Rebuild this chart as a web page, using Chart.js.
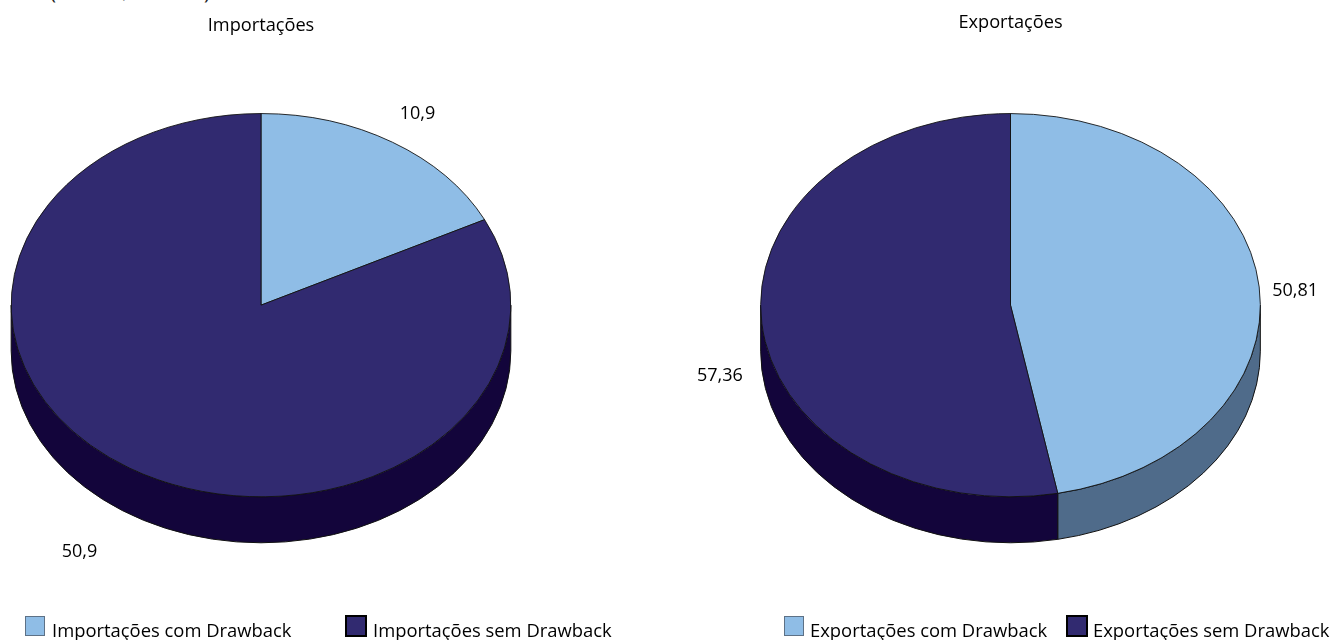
<!DOCTYPE html>
<html lang="pt-BR">
<head>
<meta charset="utf-8">
<title>Drawback</title>
<script src="https://cdn.jsdelivr.net/npm/chart.js@4"></script>
<style>
  html, body { margin: 0; padding: 0; background: #fff; overflow: hidden; }
  body { position: relative; width: 1332px; height: 640px; font-family: "Open Sans", sans-serif; color: #000; }
  canvas { position: absolute; top: 0; }
  .unit { position: absolute; left: 50px; top: -21px; font-size: 20.5px; line-height: 24px; color: #222; white-space: nowrap; }
  .key-box { position: absolute; top: 616px; width: 20px; height: 20px; box-sizing: border-box; }
  .key-box.dark { top: 615px; width: 22px; height: 22px; }
  .key-text { position: absolute; top: 618px; font-size: 18.4px; line-height: 24px; white-space: nowrap; }
</style>
</head>
<body>
<div class="unit">(Em US$ bilhões)</div>
<canvas id="imports" width="666" height="640" style="left:0"></canvas>
<canvas id="exports" width="666" height="640" style="left:666px"></canvas>
<script>
const importLabels = ["Importações com Drawback", "Importações sem Drawback"];
const importValues = [10.9, 50.9];
const exportLabels = ["Exportações com Drawback", "Exportações sem Drawback"];
const exportValues = [50.81, 57.36];

const topColors = ["#8FBDE6", "#312A70"];
const sideColors = ["#4F6B8A", "#13053B"];

const squash = 0.767; // vertical flattening of the disc
const depth = 46; // height of the disc wall

// draws the wall of the disc, flattens the slices and writes the values
const discPlugin = {
  id: "disc",
  beforeDatasetsDraw(chart) {
    const ctx = chart.ctx;
    const arcs = chart.getDatasetMeta(0).data;
    arcs.forEach((arc, i) => {
      const { x, y, outerRadius, startAngle, endAngle } = arc;
      [0, Math.PI * 2].forEach((turn) => {
        const from = Math.max(startAngle, turn);
        const to = Math.min(endAngle, turn + Math.PI);
        if (to <= from) return;
        ctx.beginPath();
        ctx.ellipse(x, y, outerRadius, outerRadius * squash, 0, from, to);
        ctx.ellipse(x, y + depth, outerRadius, outerRadius * squash, 0, to, from, true);
        ctx.closePath();
        ctx.fillStyle = sideColors[i];
        ctx.fill();
        ctx.strokeStyle = "#111";
        ctx.lineWidth = 1;
        ctx.stroke();
      });
    });
    const { x, y } = arcs[0];
    ctx.save();
    ctx.translate(x, y);
    ctx.scale(1, squash);
    ctx.translate(-x, -y);
  },
  afterDatasetsDraw(chart, args, opts) {
    const ctx = chart.ctx;
    ctx.restore();
    const values = chart.data.datasets[0].data;
    ctx.fillStyle = "#000";
    ctx.font = '18px "Open Sans"';
    ctx.textAlign = "center";
    ctx.textBaseline = "middle";
    chart.getDatasetMeta(0).data.forEach((arc, i) => {
      const mid = (arc.startAngle + arc.endAngle) / 2;
      const px = arc.x + arc.outerRadius * Math.cos(mid) + opts.offsets[i][0];
      const py = arc.y + arc.outerRadius * squash * Math.sin(mid) + opts.offsets[i][1];
      ctx.fillText(values[i].toLocaleString("pt-BR"), px, py);
    });
  },
};

function makePie(id, title, labels, values, padding, titlePadding, offsets) {
  return new Chart(document.getElementById(id), {
    type: "pie",
    data: {
      labels: labels,
      datasets: [
        {
          data: values,
          backgroundColor: topColors,
          borderColor: "#111",
          borderWidth: 1,
        },
      ],
    },
    options: {
      responsive: false,
      animation: false,
      events: [],
      layout: { padding: padding },
      plugins: {
        legend: { display: false },
        tooltip: { enabled: false },
        title: {
          display: true,
          text: title,
          color: "#000",
          padding: titlePadding,
          font: { family: '"Open Sans"', size: 18.2, weight: "normal" },
        },
        disc: { offsets: offsets },
      },
    },
    plugins: [discPlugin],
  });
}

function addKey(labels, boxLefts, textLefts) {
  labels.forEach((label, i) => {
    const box = document.createElement("div");
    box.className = i === 0 ? "key-box" : "key-box dark";
    box.style.left = boxLefts[i] + "px";
    box.style.background = topColors[i];
    box.style.border = i === 0 ? "1px solid #5D7186" : "2px solid #000";
    document.body.appendChild(box);

    const text = document.createElement("div");
    text.className = "key-text";
    text.style.left = textLefts[i] + "px";
    text.textContent = label;
    document.body.appendChild(text);
  });
}

makePie("imports", "Importações", importLabels, importValues,
  { left: 10.5, right: 154.5, top: 0, bottom: 84.5 },
  { top: 15, bottom: 18 },
  [[25, -28], [-50, 84]]);
makePie("exports", "Exportações", exportLabels, exportValues,
  { left: 93.5, right: 70.5, top: 0, bottom: 84.5 },
  { top: 12, bottom: 21 },
  [[36, 4], [-42, 53]]);

addKey(importLabels, [25, 345], [52, 373]);
addKey(exportLabels, [784, 1066], [810, 1093]);
</script>
</body>
</html>
